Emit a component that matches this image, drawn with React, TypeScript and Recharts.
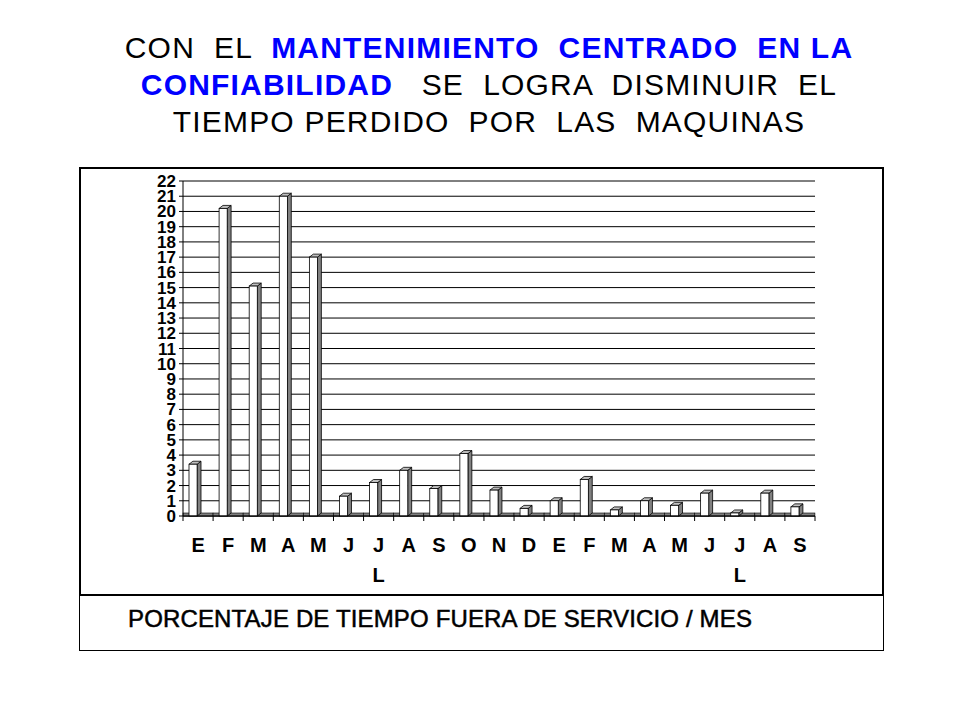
import { BarChart, Bar, XAxis, YAxis, CartesianGrid } from 'recharts';

const MONTHS = ['E', 'F', 'M', 'A', 'M', 'J', 'J', 'A', 'S', 'O', 'N', 'D', 'E', 'F', 'M', 'A', 'M', 'J', 'J', 'A', 'S'];
const SUBLABELS = ['', '', '', '', '', '', 'L', '', '', '', '', '', '', '', '', '', '', '', 'L', '', ''];
const VALUES = [3.4, 20.2, 15.1, 21.0, 17.0, 1.3, 2.2, 3.0, 1.8, 4.1, 1.7, 0.5, 1.0, 2.4, 0.4, 1.0, 0.7, 1.5, 0.2, 1.5, 0.6];
const Y_TICKS = [0, 1, 2, 3, 4, 5, 6, 7, 8, 9, 10, 11, 12, 13, 14, 15, 16, 17, 18, 19, 20, 21, 22];

const data = MONTHS.map((m, i) => ({ id: `${m}${i}`, value: VALUES[i] }));

const FONT = 'Arial, "Liberation Sans", sans-serif';
const CHART_W = 801;
const CHART_H = 425;
const MARGIN = { top: 12, right: 67, bottom: 0, left: 0 };
const Y_W = 102;
const BAND = (CHART_W - MARGIN.right - MARGIN.left - Y_W) / MONTHS.length;

// 3D-looking column: floor strip, white front, dark side, light top
function Column3D(props: any) {
  const { x, y, width, height } = props;
  const base = y + height;
  const fx = x + width * 0.2;
  const fw = width * 0.27;
  const d = width * 0.13;
  const rise = 3;
  return (
    <g>
      <rect x={x} y={base - rise} width={width} height={rise} fill="#808080" stroke="#000" strokeWidth={0.6} />
      <polygon
        points={`${fx + fw},${y} ${fx + fw + d},${y - rise} ${fx + fw + d},${base - rise} ${fx + fw},${base}`}
        fill="#808080"
        stroke="#000"
        strokeWidth={0.8}
      />
      <polygon
        points={`${fx},${y} ${fx + d},${y - rise} ${fx + fw + d},${y - rise} ${fx + fw},${y}`}
        fill="#c0c0c0"
        stroke="#000"
        strokeWidth={0.8}
      />
      <rect x={fx} y={y} width={fw} height={height} fill="#fff" stroke="#000" strokeWidth={0.8} />
    </g>
  );
}

function MonthTick(props: any) {
  const { x, y, payload } = props;
  const i = payload.index;
  const left = x - BAND / 2;
  return (
    <g>
      <line x1={left} y1={y} x2={left} y2={y + 5} stroke="#000" />
      {i === MONTHS.length - 1 && <line x1={left + BAND} y1={y} x2={left + BAND} y2={y + 5} stroke="#000" />}
      <text x={x} y={y + 36} textAnchor="middle" fontFamily={FONT} fontWeight="bold" fontSize={20} fill="#000">
        {MONTHS[i]}
      </text>
      {SUBLABELS[i] && (
        <text x={x} y={y + 66} textAnchor="middle" fontFamily={FONT} fontWeight="bold" fontSize={20} fill="#000">
          {SUBLABELS[i]}
        </text>
      )}
    </g>
  );
}

const blue = { color: '#0000ff', fontWeight: 'bold' as const };

export default function App() {
  return (
    <div style={{ position: 'absolute', left: 0, top: 0, width: 960, height: 720, background: '#fff', fontFamily: FONT }}>
      <div
        style={{
          position: 'absolute',
          left: 0,
          top: 29,
          width: 978,
          textAlign: 'center',
          fontSize: 30,
          lineHeight: '37px',
          letterSpacing: 1.2,
          whiteSpace: 'pre',
          color: '#000',
        }}
      >
        <div>
          {'CON  EL  '}
          <span style={blue}>{'MANTENIMIENTO  CENTRADO  EN LA'}</span>
        </div>
        <div>
          <span style={blue}>CONFIABILIDAD</span>
          {'   SE  LOGRA  DISMINUIR  EL'}
        </div>
        <div>{'TIEMPO PERDIDO  POR  LAS  MAQUINAS'}</div>
      </div>

      <div
        style={{
          position: 'absolute',
          left: 79,
          top: 167,
          width: 801,
          height: 425,
          border: '2px solid #000',
        }}
      >
        <BarChart width={CHART_W} height={CHART_H} data={data} margin={MARGIN} barCategoryGap={0}>
          <CartesianGrid vertical={false} stroke="#000" strokeOpacity={1} />
          <XAxis
            dataKey="id"
            interval={0}
            tickSize={0}
            tickMargin={0}
            height={78}
            axisLine={{ stroke: '#000' }}
            tick={<MonthTick />}
          />
          <YAxis
            domain={[0, 22]}
            ticks={Y_TICKS}
            interval={0}
            width={Y_W}
            tickSize={4}
            tickMargin={3}
            axisLine={{ stroke: '#000' }}
            tickLine={{ stroke: '#000' }}
            tick={{ fill: '#000', fontSize: 17, fontWeight: 'bold', fontFamily: FONT }}
          />
          <YAxis yAxisId="right" orientation="right" domain={[0, 22]} width={0} tick={false} tickLine={false} axisLine={{ stroke: '#000' }} />
          <Bar dataKey="value" shape={<Column3D />} isAnimationActive={false} />
        </BarChart>
      </div>

      <div
        style={{
          position: 'absolute',
          left: 79,
          top: 594,
          width: 803,
          height: 56,
          border: '1px solid #000',
          borderTop: 'none',
        }}
      >
        <div
          style={{
            position: 'absolute',
            left: 48,
            top: 11,
            fontSize: 24,
            letterSpacing: 0.15,
            whiteSpace: 'pre',
            color: '#000',
            WebkitTextStroke: '0.5px #000',
          }}
        >
          PORCENTAJE DE TIEMPO FUERA DE SERVICIO / MES
        </div>
      </div>
    </div>
  );
}
